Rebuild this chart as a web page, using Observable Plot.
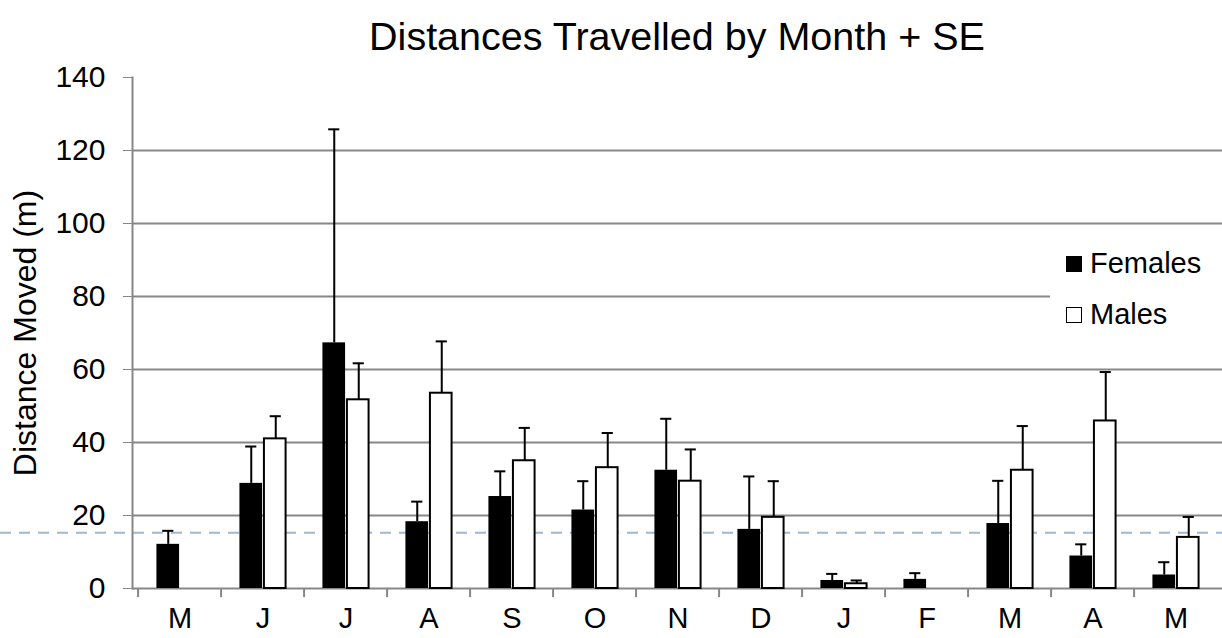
<!DOCTYPE html>
<html>
<head>
<meta charset="utf-8">
<script src="https://cdn.jsdelivr.net/npm/d3@7"></script>
<script src="https://cdn.jsdelivr.net/npm/@observablehq/plot@0.6"></script>
<style>
  html, body { margin: 0; padding: 0; background: white; }
  body { font-family: "Liberation Sans", Arial, sans-serif; }
  #wrap { position: relative; width: 1222px; height: 638px; overflow: hidden; }
  #title { height: 52px; padding-top: 8px; line-height: 56px; font-size: 39.5px; color: #000;
           margin-left: 132px; width: 1090px; text-align: center; white-space: nowrap; overflow: visible; }
  #legend { position: absolute; left: 1050px; top: 240px; width: 172px; height: 100px; background: white; }
  .sw { position: absolute; left: 16px; width: 16px; height: 16px; box-sizing: border-box; }
  .lt { position: absolute; left: 40px; font-size: 29px; line-height: 29px; color: #000; white-space: nowrap; }
</style>
</head>
<body>
<div id="wrap">
  <div id="title"></div>
  <div id="chart"></div>
  <div id="legend"></div>
</div>
<script>
// ---- data ----
const titleText = "Distances Travelled by Month + SE";
const yLabel = "Distance Moved (m)";
const monthKeys = ["May-a", "Jun", "Jul", "Aug", "Sep", "Oct", "Nov", "Dec", "Jan", "Feb", "Mar", "Apr", "May-b"];
const monthLabels = ["M", "J", "J", "A", "S", "O", "N", "D", "J", "F", "M", "A", "M"];
const seriesNames = ["Females", "Males"];
const femaleMeans = [12.1, 28.8, 67.3, 18.3, 25.2, 21.5, 32.4, 16.2, 2.2, 2.5, 17.8, 8.9, 3.7];
const femaleUpper = [15.8, 38.9, 125.8, 23.8, 32.1, 29.4, 46.5, 30.7, 4.0, 4.2, 29.5, 12.1, 7.2];
const maleMeans = [null, 41.0, 51.7, 53.5, 35.0, 33.1, 29.4, 19.5, 1.3, 0, 32.4, 45.9, 14.0];
const maleUpper = [null, 47.2, 61.7, 67.7, 44.0, 42.6, 38.1, 29.4, 2.2, null, 44.5, 59.3, 19.6];
const yTicks = [0, 20, 40, 60, 80, 100, 120, 140];
const gridValues = [0, 20, 40, 60, 80, 100, 120];
const referenceLine = [15.3];

// ---- tables ----
const fRows = monthKeys.map((k, i) => ({key: k, v: femaleMeans[i], top: femaleUpper[i]}));
const mRows = monthKeys.map((k, i) => ({key: k, v: maleMeans[i], top: maleUpper[i]})).filter(d => d.v != null);
const mErr = mRows.filter(d => d.top != null);

const W = 1222, H = 578, ML = 132, MR = 0;
const band = (W - ML - MR) / monthKeys.length;
const half = band / 2;
const barW = 23.5;
const capHalf = 6;
const grey = "#878787";
const labelOf = d => monthLabels[monthKeys.indexOf(d)];

document.getElementById("title").textContent = titleText;

const chart = Plot.plot({
  width: W,
  height: H,
  marginTop: 17,
  marginBottom: 50,
  marginLeft: ML,
  marginRight: MR,
  style: {fontFamily: "'Liberation Sans', Arial, sans-serif", background: "white", overflow: "visible", color: "black"},
  x: {domain: monthKeys, paddingInner: 0, paddingOuter: 0, label: null, tickFormat: labelOf},
  y: {domain: [0, 140], label: null},
  marks: [
    Plot.ruleY(gridValues, {stroke: grey, strokeWidth: 2}),
    Plot.ruleY(referenceLine, {stroke: "#9fb8d0", strokeWidth: 2, strokeDasharray: "11,8", insetLeft: -ML}),
    Plot.barY(fRows, {x: "key", y: "v", fill: "black", insetLeft: half - barW, insetRight: half}),
    Plot.barY(mRows, {x: "key", y: "v", fill: "white", stroke: "black", strokeWidth: 2,
                      insetLeft: half + 1, insetRight: half - barW}),
    Plot.ruleX(fRows, {x: "key", y1: "v", y2: "top", dx: -barW / 2, stroke: "black", strokeWidth: 2}),
    Plot.tickY(fRows, {x: "key", y: "top", insetLeft: half - barW / 2 - capHalf, insetRight: half + barW / 2 - capHalf,
                       stroke: "black", strokeWidth: 2}),
    Plot.ruleX(mErr, {x: "key", y1: "v", y2: "top", dx: barW / 2 + 1, stroke: "black", strokeWidth: 2}),
    Plot.tickY(mErr, {x: "key", y: "top", insetLeft: half + barW / 2 + 1 - capHalf, insetRight: half - barW / 2 - 1 - capHalf,
                      stroke: "black", strokeWidth: 2}),
    Plot.frame({anchor: "left", stroke: grey, strokeWidth: 2}),
    Plot.ruleX(monthKeys, {x: d => d, dx: -half, y1: 0, y2: -2.5, stroke: grey, strokeWidth: 2}),
    Plot.axisY({ticks: yTicks, tickSize: 9, tickPadding: 18, fontSize: 30, stroke: grey, label: null}),
    Plot.axisX({tickSize: 0, tickPadding: 19, fontSize: 29, label: null, tickFormat: labelOf}),
    Plot.text([yLabel], {frameAnchor: "left", dx: -107, rotate: -90, fontSize: 32,
                         textAnchor: "middle", lineAnchor: "middle", fill: "black"})
  ]
});
document.getElementById("chart").appendChild(chart);

// legend
const legend = document.getElementById("legend");
seriesNames.forEach((name, i) => {
  const sw = document.createElement("div");
  sw.className = "sw";
  sw.style.top = (16 + i * 51) + "px";
  sw.style.background = i === 0 ? "black" : "white";
  sw.style.border = i === 0 ? "none" : "1.5px solid black";
  legend.appendChild(sw);
  const t = document.createElement("div");
  t.className = "lt";
  t.style.top = (8.5 + i * 51) + "px";
  t.textContent = name;
  legend.appendChild(t);
});
</script>
</body>
</html>
